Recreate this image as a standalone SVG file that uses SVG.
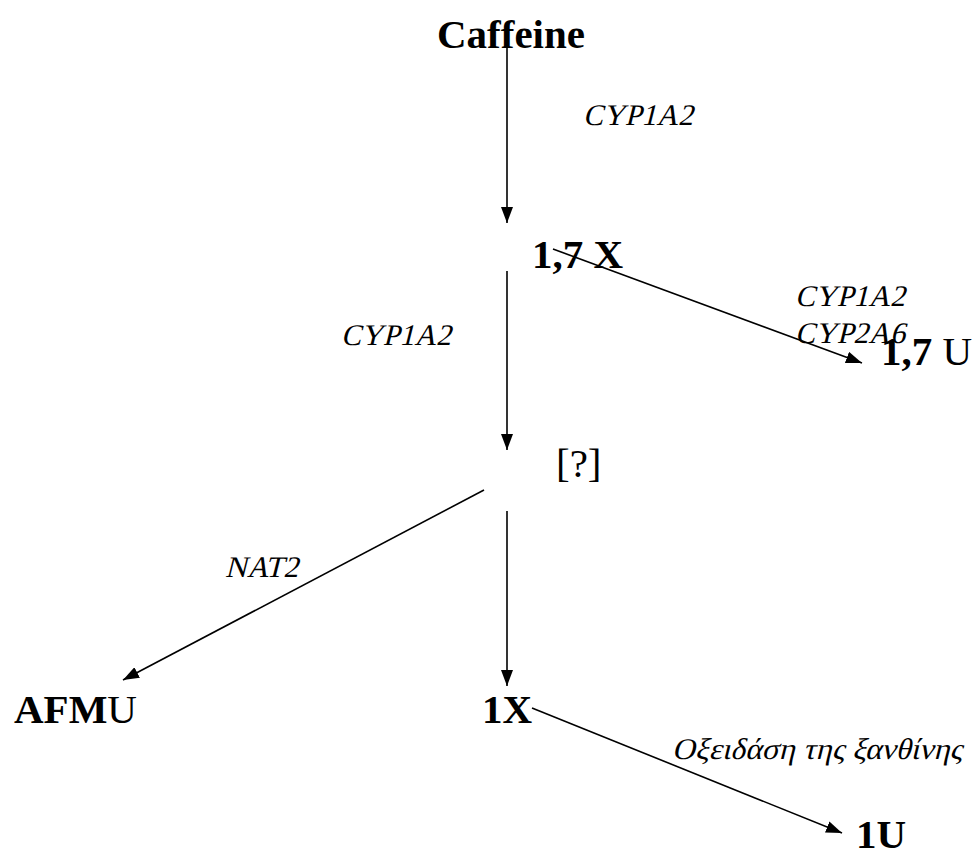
<svg xmlns="http://www.w3.org/2000/svg" width="978" height="858" viewBox="0 0 978 858">
<defs>
<marker id="arr" viewBox="0 0 16 12" refX="16" refY="6" markerWidth="16" markerHeight="12" markerUnits="userSpaceOnUse" orient="auto">
<path d="M0,0 L16,6 L0,12 Z" fill="#000"/>
</marker>
</defs>
<style>
.n{font-family:"Liberation Serif","DejaVu Serif",serif;font-weight:bold;font-size:41px;fill:#000}
.r{font-weight:normal}
.e{font-family:"Liberation Serif","DejaVu Serif",serif;font-style:normal;font-size:30px;fill:#000}
.c{stroke:#000;stroke-width:1.6;fill:none;marker-end:url(#arr)}
</style>
<rect width="978" height="858" fill="#fff"/>
<g id="connectors">
<line class="c" x1="507" y1="30" x2="507" y2="223"/>
<line class="c" x1="507" y1="271" x2="507" y2="450"/>
<line class="c" x1="507" y1="511" x2="507" y2="686"/>
<line class="c" x1="553" y1="249" x2="862" y2="363"/>
<line class="c" x1="484" y1="490" x2="123" y2="680"/>
<line class="c" x1="532" y1="708" x2="842" y2="833"/>
</g>
<g id="caffeine"><text class="n" x="437" y="48">Caffeine</text></g>
<g id="x17"><text class="n" x="532" y="268">1,7 X</text></g>
<g id="u17"><text class="n" x="881" y="365">1,7 <tspan class="r">U</tspan></text></g>
<g id="unknown"><text class="n r" x="556" y="477" font-size="36">[?]</text></g>
<g id="afmu"><text class="n" x="14" y="723">AFM<tspan class="r">U</tspan></text></g>
<g id="x1"><text class="n" x="482" y="723">1X</text></g>
<g id="u1"><text class="n" x="856" y="848" font-size="40">1U</text></g>
<g id="labels">
<text class="e" transform="translate(583,125) skewX(-14)">CYP1A2</text>
<text class="e" transform="translate(341,345) skewX(-14)">CYP1A2</text>
<text class="e" transform="translate(795,306) skewX(-14)">CYP1A2</text>
<text class="e" transform="translate(795,343) skewX(-14)">CYP2A6</text>
<text class="e" transform="translate(225,577) skewX(-14)">NAT2</text>
<text class="e" transform="translate(672,759) skewX(-14)" textLength="290" lengthAdjust="spacingAndGlyphs">Οξειδάση της ξανθίνης</text>
</g>
</svg>
